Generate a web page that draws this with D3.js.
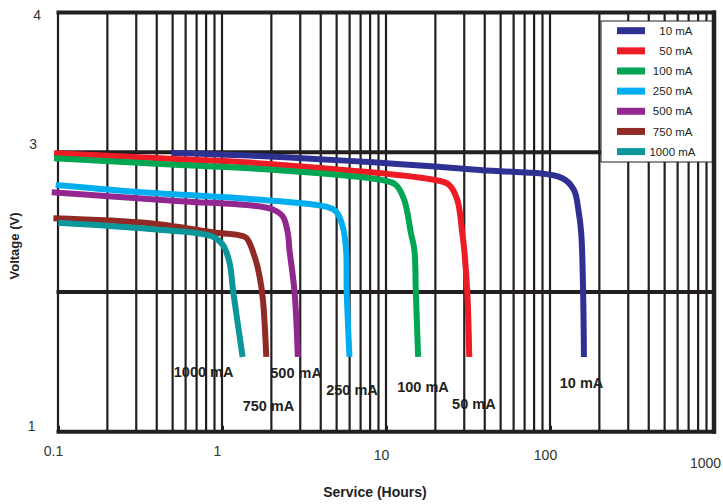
<!DOCTYPE html>
<html>
<head>
<meta charset="utf-8">
<script src="https://cdn.jsdelivr.net/npm/d3@7"></script>
<style>
  body { margin: 0; background: #fff; }
  svg { display: block; font-family: "Liberation Sans", Arial, sans-serif; }
</style>
</head>
<body>
<div id="root"></div>
<script>
const width = 723;
const height = 504;

// discharge curves, [hours, volts]
const seriesNames = ["10 mA", "50 mA", "100 mA", "250 mA", "500 mA", "750 mA", "1000 mA"];
const colors = ["#2e3192", "#ed1c24", "#00a651", "#00aeef", "#92278f", "#912a24", "#0b969a"];

const curve10 = [[0.494, 2.995], [1.474, 2.976], [37, 2.873], [119, 2.814], [140, 2.73], [149, 2.587], [155, 2.422], [159, 2.035], [161, 1.535]];
const curve50 = [[0.0945, 2.993], [0.553, 2.95], [1.474, 2.926], [20.2, 2.80], [24.3, 2.766], [27.2, 2.66], [29.2, 2.42], [30.0, 2.30], [31.3, 2.0], [32.2, 1.535]];
const curve100 = [[0.0945, 2.957], [0.553, 2.909], [1.474, 2.885], [9.5, 2.80], [11.5, 2.766], [12.94, 2.657], [14.2, 2.42], [14.9, 2.30], [15.2, 2.0], [15.7, 1.535]];
const curve250 = [[0.0968, 2.766], [0.363, 2.71], [1.474, 2.666], [4.32, 2.61], [4.97, 2.575], [5.45, 2.467], [5.71, 2.30], [5.76, 2.0], [5.99, 1.535]];
const curve500 = [[0.0916, 2.714], [0.553, 2.65], [1.474, 2.62], [2.04, 2.59], [2.35, 2.54], [2.52, 2.42], [2.58, 2.30], [2.77, 2.0], [2.90, 1.535]];
const curve750 = [[0.0937, 2.528], [0.363, 2.492], [0.925, 2.424], [1.282, 2.405], [1.408, 2.387], [1.581, 2.253], [1.696, 2.11], [1.777, 1.943], [1.863, 1.535]];
const curve1000 = [[0.1004, 2.496], [0.363, 2.451], [0.881, 2.396], [1.014, 2.336], [1.114, 2.205], [1.167, 2.014], [1.336, 1.535]];

// where each curve's name is written, [hours, volts]
const labelAnchors = [[114.7, 1.349], [25.3, 1.198], [11.7, 1.322], [4.32, 1.298], [1.97, 1.42], [1.336, 1.184], [0.508, 1.427]];

const xTicks = [0.1, 1, 10, 100, 1000];
const yTicks = [1, 3, 4];
const yGrid = [1, 2, 3, 4];

const curves = [curve10, curve50, curve100, curve250, curve500, curve750, curve1000];

const ink = "#231f20";

const svg = d3.select("#root").append("svg")
  .attr("width", width)
  .attr("height", height);

const x = d3.scaleLog().domain([0.1, 1000]).range([58, 714]);
const y = d3.scaleLinear().domain([1, 4]).range([431.7, 12.5]);

// vertical grid: 1..9 in every decade
var xGrid = [];
for (var p = -1; p < 3; p++) {
  for (var m = 1; m < 10; m++) xGrid.push(+(m * Math.pow(10, p)).toPrecision(3));
}

svg.append("g")
  .selectAll("line")
  .data(xGrid)
  .enter()
  .append("line")
  .attr("x1", d => x(d))
  .attr("x2", d => x(d))
  .attr("y1", y(4))
  .attr("y2", y(1))
  .attr("stroke", ink)
  .attr("stroke-width", 2.2);

svg.append("g")
  .selectAll("line")
  .data(yGrid)
  .enter()
  .append("line")
  .attr("x1", x(0.1) - 1.5)
  .attr("x2", x(1000) + 2)
  .attr("y1", d => y(d))
  .attr("y2", d => y(d))
  .attr("stroke", ink)
  .attr("stroke-width", 4);

// small inner marks on the bottom axis
const xAxis = svg.append("g")
  .attr("transform", "translate(0," + y(1) + ")")
  .call(d3.axisBottom(x).tickValues(xTicks).tickFormat(d3.format("~g")).tickSizeInner(-6).tickSizeOuter(0).tickPadding(14));
xAxis.select(".domain").remove();
xAxis.selectAll("line").attr("stroke", ink).attr("stroke-width", 3);
xAxis.selectAll("text")
  .attr("fill", "#333")
  .attr("font-size", "14px")
  .attr("font-family", "Liberation Sans, Arial, sans-serif")
  .attr("dx", d => d == 1000 ? -9 : -5)
  .attr("dy", d => d == 1000 ? "1.6em" : (d >= 10 ? "1.05em" : "0.71em"));

const yNudge = { 4: [41, 6.5], 3: [37, -4], 1: [35.5, -1] };
const yAxis = svg.append("g")
  .call(d3.axisLeft(y).tickValues(yTicks).tickFormat(d3.format("d")).tickSize(0));
yAxis.select(".domain").remove();
yAxis.selectAll("text")
  .attr("fill", "#333")
  .attr("font-size", "14px")
  .attr("font-family", "Liberation Sans, Arial, sans-serif")
  .attr("text-anchor", "end")
  .attr("x", d => yNudge[d][0])
  .attr("dy", d => yNudge[d][1]);

const line = d3.line()
  .x(d => x(d[0]))
  .y(d => y(d[1]))
  .curve(d3.curveCatmullRom.alpha(0.5));

svg.append("g")
  .selectAll("path")
  .data(curves)
  .enter()
  .append("path")
  .attr("d", line)
  .attr("fill", "none")
  .attr("stroke", (d, i) => colors[i])
  .attr("stroke-width", 6)
  .attr("stroke-linejoin", "round")
  .attr("stroke-linecap", "butt");

// legend
const legend = svg.append("g").attr("id", "legend");
legend.append("rect")
  .attr("x", 601)
  .attr("y", 21)
  .attr("width", 113)
  .attr("height", 141)
  .attr("fill", "#fff")
  .attr("stroke", ink)
  .attr("stroke-width", 1);

legend.selectAll(".legend-item")
  .data(seriesNames)
  .enter()
  .append("rect")
  .attr("class", "legend-item")
  .attr("x", 617)
  .attr("y", (d, i) => 27.2 + i * 20.15)
  .attr("width", 28)
  .attr("height", 7)
  .attr("fill", (d, i) => colors[i]);

legend.selectAll("text")
  .data(seriesNames)
  .enter()
  .append("text")
  .attr("x", (d, i) => i == 6 ? 695.5 : 692.5)
  .attr("y", (d, i) => 30.7 + i * 20.15)
  .attr("dy", "0.36em")
  .attr("text-anchor", "end")
  .attr("font-size", "11.5px")
  .attr("fill", ink)
  .text(d => d);

// right border sits over the legend
svg.append("line")
  .attr("x1", x(1000))
  .attr("x2", x(1000))
  .attr("y1", y(4) - 2)
  .attr("y2", y(1) + 2)
  .attr("stroke", ink)
  .attr("stroke-width", 4.5);

// curve names
svg.append("g")
  .selectAll("text")
  .data(labelAnchors)
  .enter()
  .append("text")
  .attr("x", d => x(d[0]))
  .attr("y", d => y(d[1]))
  .attr("dy", "0.36em")
  .attr("font-size", "14.5px")
  .attr("font-weight", "bold")
  .attr("fill", ink)
  .text((d, i) => seriesNames[i]);

svg.append("text")
  .attr("x", 375)
  .attr("y", 492)
  .attr("dy", "0.36em")
  .attr("text-anchor", "middle")
  .attr("font-size", "14px")
  .attr("font-weight", "bold")
  .attr("fill", ink)
  .text("Service (Hours)");

svg.append("text")
  .attr("transform", "translate(14,246) rotate(-90)")
  .attr("dy", "0.36em")
  .attr("text-anchor", "middle")
  .attr("font-size", "13px")
  .attr("font-weight", "bold")
  .attr("fill", ink)
  .text("Voltage (V)");
</script>
</body>
</html>
